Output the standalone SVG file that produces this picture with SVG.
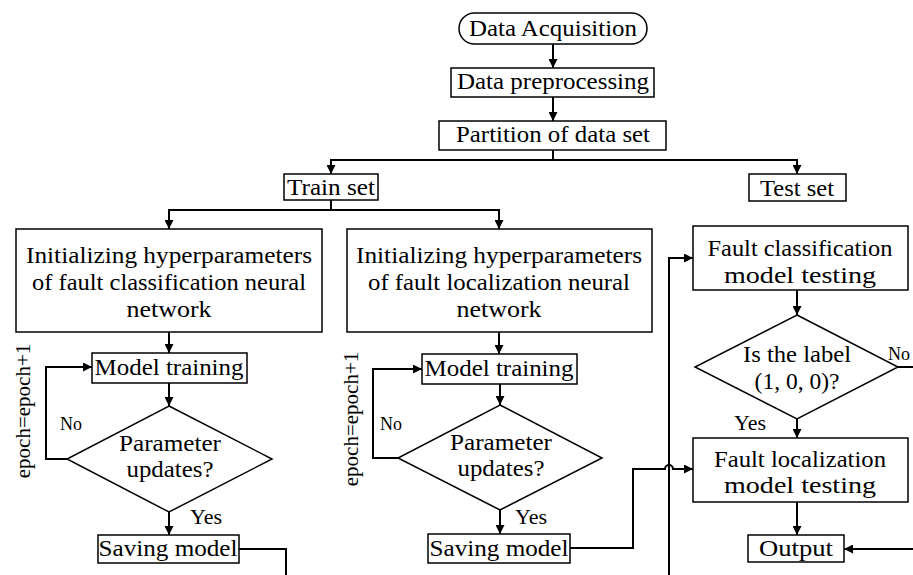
<svg xmlns="http://www.w3.org/2000/svg" width="913" height="575" viewBox="0 0 913 575">
<style>
.box{fill:#fff;stroke:#000;stroke-width:1.5}
.t{font-family:"Liberation Serif","Times New Roman",serif;font-size:23.5px;fill:#000;text-anchor:middle}
.s{font-family:"Liberation Serif","Times New Roman",serif;font-size:18px;fill:#000}
.y{font-family:"Liberation Serif","Times New Roman",serif;font-size:22px;fill:#000}
.e{font-family:"Liberation Serif","Times New Roman",serif;font-size:21px;fill:#000;text-anchor:middle}
.c{fill:none;stroke:#000;stroke-width:2}
.a{marker-end:url(#arr)}
</style>
<defs>
<marker id="arr" viewBox="0 0 10 10" refX="10" refY="5" markerWidth="10" markerHeight="9" markerUnits="userSpaceOnUse" orient="auto">
<path d="M0,0 L10,5 L0,10 z" fill="#000"/>
</marker>
</defs>
<rect width="913" height="575" fill="#fff"/>
<g id="connectors">
<path class="c a" d="M553,44 V68"/>
<path class="c a" d="M553,97 V121"/>
<path class="c a" d="M553,150 V160 H331 V174"/>
<path class="c a" d="M553,160 H797 V174"/>
<path class="c a" d="M331,200 V210 H169 V229"/>
<path class="c a" d="M331,210 H499 V229"/>
<path class="c a" d="M169,332 V353"/>
<path class="c a" d="M499,332 V354"/>
<path class="c a" d="M169,383 V406"/>
<path class="c a" d="M500,384 V405"/>
<path class="c a" d="M67,459 H46 V367 H92"/>
<path class="c a" d="M398,458 H373 V369 H422"/>
<path class="c a" d="M169,512 V535"/>
<path class="c a" d="M500,510 V534"/>
<path class="c" d="M239,549 H286 V575"/>
<path class="c a" d="M570,548 H633 V469 H665 A4,4 0 0 1 673,469 H693"/>
<path class="c a" d="M669,575 V258 H693"/>
<path class="c a" d="M797,290 V315"/>
<path class="c" d="M898,367 H913"/>
<path class="c a" d="M797,419 V438"/>
<path class="c a" d="M797,502 V535"/>
<path class="c a" d="M913,549 H844"/>
</g>
<g id="n-acq"><rect class="box" x="459" y="13" width="188" height="31" rx="15.5"/><text class="t" x="553" y="36" textLength="168" lengthAdjust="spacingAndGlyphs">Data Acquisition</text></g>
<g id="n-pre"><rect class="box" x="451" y="68" width="203" height="29"/><text class="t" x="553" y="89" textLength="192" lengthAdjust="spacingAndGlyphs">Data preprocessing</text></g>
<g id="n-part"><rect class="box" x="439" y="121" width="227" height="29"/><text class="t" x="553" y="142" textLength="194" lengthAdjust="spacingAndGlyphs">Partition of data set</text></g>
<g id="n-train"><rect class="box" x="284" y="174" width="94" height="26"/><text class="t" x="331" y="195" textLength="88" lengthAdjust="spacingAndGlyphs">Train set</text></g>
<g id="n-test"><rect class="box" x="749" y="174" width="97" height="27"/><text class="t" x="797" y="196" textLength="74" lengthAdjust="spacingAndGlyphs">Test set</text></g>
<g id="n-init1"><rect class="box" x="16" y="229" width="306" height="103"/>
<text class="t" x="169" y="263" textLength="286" lengthAdjust="spacingAndGlyphs">Initializing hyperparameters</text>
<text class="t" x="169" y="290" textLength="274" lengthAdjust="spacingAndGlyphs">of fault classification neural</text>
<text class="t" x="169" y="317" textLength="85" lengthAdjust="spacingAndGlyphs">network</text></g>
<g id="n-init2"><rect class="box" x="347" y="229" width="305" height="103"/>
<text class="t" x="499" y="263" textLength="286" lengthAdjust="spacingAndGlyphs">Initializing hyperparameters</text>
<text class="t" x="499" y="290" textLength="262" lengthAdjust="spacingAndGlyphs">of fault localization neural</text>
<text class="t" x="499" y="317" textLength="85" lengthAdjust="spacingAndGlyphs">network</text></g>
<g id="n-mt1"><rect class="box" x="92" y="353" width="155" height="30"/><text class="t" x="169" y="375" textLength="149" lengthAdjust="spacingAndGlyphs">Model training</text></g>
<g id="n-mt2"><rect class="box" x="422" y="354" width="155" height="30"/><text class="t" x="499" y="376" textLength="149" lengthAdjust="spacingAndGlyphs">Model training</text></g>
<g id="n-dec1"><polygon class="box" points="169,406 272,459 169,512 67,459"/>
<text class="t" x="170" y="451" textLength="102" lengthAdjust="spacingAndGlyphs">Parameter</text>
<text class="t" x="170" y="477" textLength="87" lengthAdjust="spacingAndGlyphs">updates?</text></g>
<g id="n-dec2"><polygon class="box" points="500,405 602,458 500,510 398,458"/>
<text class="t" x="501" y="450" textLength="102" lengthAdjust="spacingAndGlyphs">Parameter</text>
<text class="t" x="501" y="476" textLength="87" lengthAdjust="spacingAndGlyphs">updates?</text></g>
<g id="n-save1"><rect class="box" x="98" y="535" width="141" height="28"/><text class="t" x="168" y="556" textLength="139" lengthAdjust="spacingAndGlyphs">Saving model</text></g>
<g id="n-save2"><rect class="box" x="428" y="534" width="142" height="29"/><text class="t" x="499" y="556" textLength="139" lengthAdjust="spacingAndGlyphs">Saving model</text></g>
<g id="n-fct"><rect class="box" x="693" y="226" width="215" height="64"/>
<text class="t" x="800" y="256" textLength="185" lengthAdjust="spacingAndGlyphs">Fault classification</text>
<text class="t" x="800" y="283" textLength="152" lengthAdjust="spacingAndGlyphs">model testing</text></g>
<g id="n-dec3"><polygon class="box" points="797,315 898,367 797,419 695,367"/>
<text class="t" x="797" y="362" textLength="108" lengthAdjust="spacingAndGlyphs">Is the label</text>
<text class="t" x="797" y="389">(1, 0, 0)?</text></g>
<g id="n-flt"><rect class="box" x="693" y="438" width="215" height="64"/>
<text class="t" x="800" y="467" textLength="172" lengthAdjust="spacingAndGlyphs">Fault localization</text>
<text class="t" x="800" y="493" textLength="152" lengthAdjust="spacingAndGlyphs">model testing</text></g>
<g id="n-out"><rect class="box" x="748" y="535" width="96" height="27"/><text class="t" x="796" y="556" textLength="74" lengthAdjust="spacingAndGlyphs">Output</text></g>
<g id="labels">
<text class="s" x="60" y="430">No</text>
<text class="s" x="380" y="430">No</text>
<text class="s" x="888" y="360">No</text>
<text class="y" x="190" y="524">Yes</text>
<text class="y" x="515" y="524">Yes</text>
<text class="y" x="734" y="430">Yes</text>
<text class="e" transform="translate(30,411) rotate(-90)">epoch=epoch+1</text>
<text class="e" transform="translate(358,419) rotate(-90)">epoch=epoch+1</text>
</g>
</svg>
